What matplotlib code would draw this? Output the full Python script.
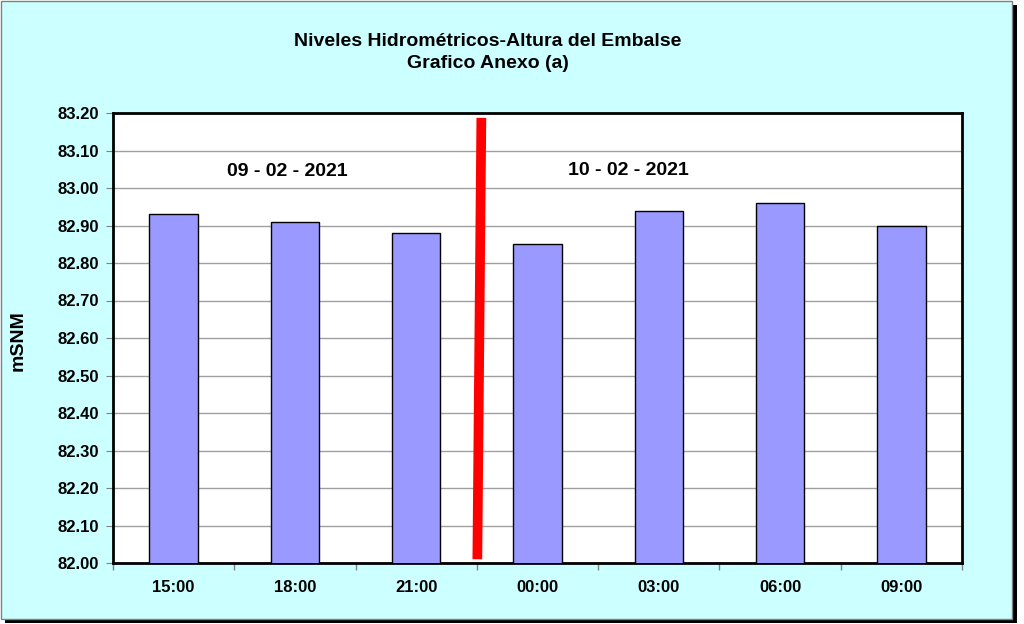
import matplotlib
matplotlib.use("Agg")
import matplotlib.pyplot as plt
from matplotlib.patches import Rectangle
from matplotlib.ticker import FixedLocator, NullFormatter

categories = ["15:00", "18:00", "21:00", "00:00", "03:00", "06:00", "09:00"]
values = [82.93, 82.91, 82.88, 82.85, 82.94, 82.96, 82.90]
yticks = [82.00, 82.10, 82.20, 82.30, 82.40, 82.50, 82.60, 82.70, 82.80, 82.90,
          83.00, 83.10, 83.20]
date_labels = ["09 - 02 - 2021", "10 - 02 - 2021"]
date_pos = [(0.94, 83.043), (3.75, 83.048)]
divider_x = [2.504, 2.537]
divider_y = [82.01, 83.187]

W, H = 1024, 624
fig = plt.figure(figsize=(W / 100, H / 100), dpi=100)
fig.patch.set_facecolor("white")
font = "Liberation Sans"

# shadow and frame
fig.add_artist(Rectangle((5 / W, 1 - 623 / H), 1012 / W, 618 / H,
                         transform=fig.transFigure, facecolor="black",
                         edgecolor="none", zorder=-2))
fig.add_artist(Rectangle((1 / W, 1 - 619 / H), 1011 / W, 618 / H,
                         transform=fig.transFigure, facecolor="#CCFFFF",
                         edgecolor="#808080", linewidth=1, zorder=-1))

ax = fig.add_axes([113 / W, 1 - 563 / H, (962 - 113) / W, (563 - 113) / H])
ax.set_zorder(1)
ax.set_facecolor("white")
x = list(range(len(categories)))
ax.bar(x, values, width=0.40, color="#9999FF", edgecolor="black",
       linewidth=1.0, zorder=3)
ax.set_xlim(-0.5, len(categories) - 0.5)
ax.set_ylim(82.0, 83.2)
ax.set_yticks(yticks)
ax.set_yticklabels([f"{v:.2f}" for v in yticks], fontsize=12,
                   fontweight="bold", family=font)
ax.set_xticks(x)
ax.set_xticklabels(categories, fontsize=12, fontweight="bold", family=font)
ax.tick_params(axis="x", which="major", length=0, pad=12)
ax.xaxis.set_minor_locator(FixedLocator([i - 0.5 for i in range(len(categories) + 1)]))
ax.xaxis.set_minor_formatter(NullFormatter())
ax.tick_params(axis="x", which="minor", length=5, color="#808080", width=1)
ax.tick_params(axis="y", length=5, color="#808080", pad=5)
ax.grid(axis="y", color="#A0A0A0", linewidth=1, zorder=0)
for s in ax.spines.values():
    s.set_linewidth(2)
    s.set_color("black")

ax.plot(divider_x, divider_y, color="#FF0000", linewidth=7,
        solid_capstyle="butt", zorder=5)
for lbl, (px, py) in zip(date_labels, date_pos):
    ax.text(px, py, lbl, fontsize=14, fontweight="bold", family=font,
            ha="center", va="center", zorder=6)

ax.set_ylabel("mSNM", fontsize=14, fontweight="bold", family=font)
ax.yaxis.set_label_coords(-86 / 849, 0.495)

fig.text(488 / W, 1 - 42 / H, "Niveles Hidrométricos-Altura del Embalse",
         fontsize=14, fontweight="bold", family=font, ha="center", va="center")
fig.text(488 / W, 1 - 63 / H, "Grafico Anexo (a)",
         fontsize=14, fontweight="bold", family=font, ha="center", va="center")

fig.savefig("out.png", dpi=100, facecolor=fig.get_facecolor())
